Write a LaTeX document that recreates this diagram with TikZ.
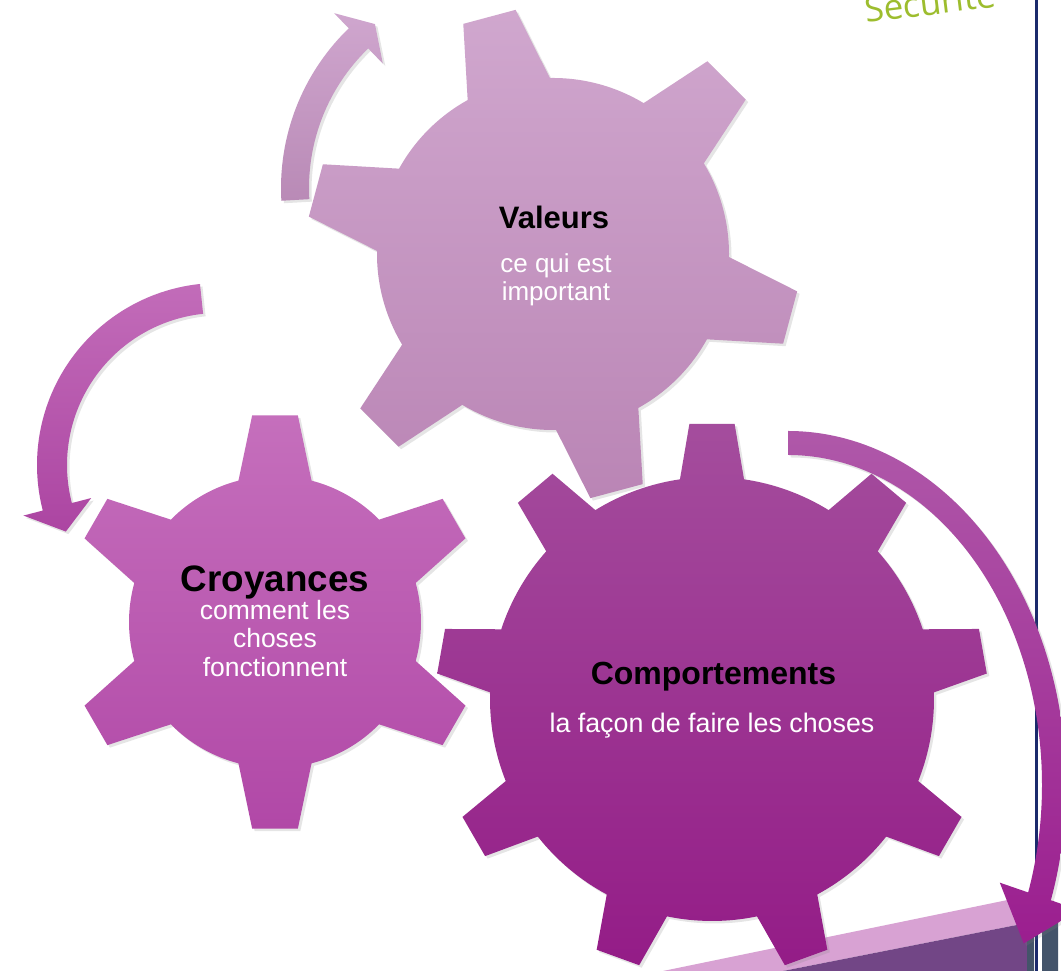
\documentclass[tikz,border=0pt]{standalone}
\usepackage{fontspec}
\setmainfont{Liberation Sans}
\newfontfamily\securitefont{Open Sans}
\usepackage{tikz}
\usetikzlibrary{shadows}
\usepackage{xcolor}
\definecolor{ValeursTop}{HTML}{D0A7CE}
\definecolor{ValeursBottom}{HTML}{BA85B5}
\definecolor{CroyancesTop}{HTML}{C56FBC}
\definecolor{CroyancesBottom}{HTML}{B148A7}
\definecolor{ComportementsTop}{HTML}{A44D9D}
\definecolor{ComportementsBottom}{HTML}{941C87}
\definecolor{ArrowLightTop}{HTML}{CFA6CE}
\definecolor{ArrowLightBottom}{HTML}{B98AB6}
\definecolor{ArrowMidTop}{HTML}{C26CB9}
\definecolor{ArrowMidBottom}{HTML}{AC45A2}
\definecolor{ArrowDarkTop}{HTML}{AF58A9}
\definecolor{ArrowDarkBottom}{HTML}{9B1E8F}
\definecolor{BandLight}{HTML}{D8A2D3}
\definecolor{BandDark}{HTML}{724686}
\definecolor{BarGrey}{HTML}{44546A}
\definecolor{RuleNavy}{HTML}{1B2A6C}
\definecolor{SecuriteGreen}{HTML}{9DBD2E}
\tikzstyle{SoftShadow}=[drop shadow={opacity=0.2,shadow xshift=2.5pt,shadow yshift=-2.5pt}]
\tikzstyle{ValeursGear}=[top color=ValeursTop,bottom color=ValeursBottom,SoftShadow]
\tikzstyle{CroyancesGear}=[top color=CroyancesTop,bottom color=CroyancesBottom,SoftShadow]
\tikzstyle{ComportementsGear}=[top color=ComportementsTop,bottom color=ComportementsBottom,SoftShadow]
\tikzstyle{ArrowLight}=[top color=ArrowLightTop,bottom color=ArrowLightBottom,SoftShadow]
\tikzstyle{ArrowMid}=[top color=ArrowMidTop,bottom color=ArrowMidBottom,SoftShadow]
\tikzstyle{ArrowDark}=[top color=ArrowDarkTop,bottom color=ArrowDarkBottom,SoftShadow]
\tikzstyle{GearTitle}=[inner sep=0pt,text=black,anchor=base]
\tikzstyle{GearText}=[inner sep=0pt,text=white,align=center]

\begin{document}
\begin{tikzpicture}[x=1pt,y=1pt]
  \clip (0,0) rectangle (1061,971);
  \fill[white] (0,0) rectangle (1061,971);

  % page rule and footer band
  \draw[RuleNavy,line width=2.6pt] (1036.6,0) -- (1036.6,971);
  \fill[BandLight] (663,0) -- (1027,75) -- (1027,48) -- (783,0) -- cycle;
  \fill[BandDark] (783,0) -- (1027,48) -- (1027,0) -- cycle;
  \fill[BarGrey] (1027,0) -- (1027,49) -- (1034,50) -- (1034,0) -- cycle;
  \fill[BarGrey] (1042,0) -- (1042,53) -- (1058,55) -- (1058,0) -- cycle;

  \node[rotate=7,anchor=base west,inner sep=0pt,text=SecuriteGreen,font=\securitefont\fontsize{35}{40}\selectfont](Securite) at (866,948){Sécurité};

  % gears
  \begin{scope}[shift={(712,272)}]
    \path[ComportementsGear] (81.7:222)
      \foreach \a in {90,130,...,410}{ -- ({\a-4.7}:276) -- ({\a+4.7}:276) -- ({\a+8.3}:222)
      arc[start angle=\a+8.3,end angle=\a+31.7,radius=222]} -- cycle;
  \end{scope}
  \begin{scope}[shift={(275,349)}]
    \path[CroyancesGear] (15.5:146)
      \foreach \a in {30,90,...,330}{ -- ({\a-6.3}:208) -- ({\a+6.3}:208) -- ({\a+14.5}:146)
      arc[start angle=\a+14.5,end angle=\a+45.5,radius=146]} -- cycle;
  \end{scope}
  \begin{scope}[shift={(553,717)}]
    \path[ValeursGear] (31:176)
      \foreach \a in {45,105,...,345}{ -- ({\a-6.3}:247) -- ({\a+6.3}:247) -- ({\a+14}:176)
      arc[start angle=\a+14,end angle=\a+46,radius=176]} -- cycle;
  \end{scope}

  % curved arrows
  \begin{scope}[shift={(503,783)}]
    \path[ArrowLight] (183.3:222) arc[start angle=183.3,end angle=134,radius=222]
      -- (134:243) -- (128:208) -- (134:173) -- (134:194)
      arc[start angle=134,end angle=183.3,radius=194] -- cycle;
  \end{scope}
  \begin{scope}[shift={(219,506)}]
    \path[ArrowMid] (96:182) arc[start angle=96,end angle=194.5,radius=182]
      -- (194.5:202) -- (203.5:167) -- (194.5:132) -- (194.5:152)
      arc[start angle=194.5,end angle=96,radius=152] -- cycle;
  \end{scope}
  \begin{scope}[shift={(788,186)}]
    \path[ArrowDark] (90:278 and 354) arc[start angle=90,end angle=-19,x radius=278,y radius=354]
      -- (-19:308 and 384) -- (-27.6:266 and 342) -- (-19:224 and 300) -- (-19:254 and 330)
      arc[start angle=-19,end angle=90,x radius=254,y radius=330] -- cycle;
  \end{scope}

  % labels
  \node[GearTitle,font=\fontsize{31}{34}\selectfont\bfseries](Valeurs) at (554,742){Valeurs};
  \node[GearText,font=\fontsize{26}{28}\selectfont](ValeursText) at (556,691.5){ce qui est\\important};
  \node[GearTitle,font=\fontsize{36.8}{40}\selectfont\bfseries](Croyances) at (275,379.3){Croyances};
  \node[GearText,font=\fontsize{26.5}{28.3}\selectfont](CroyancesText) at (275,332.5){comment les\\choses\\fonctionnent};
  \node[GearTitle,font=\fontsize{32}{35}\selectfont\bfseries](Comportements) at (713.5,286){Comportements};
  \node[GearText,anchor=base,font=\fontsize{26.8}{30}\selectfont](ComportementsText) at (712,238.5){la façon de faire les choses};
\end{tikzpicture}
\end{document}
